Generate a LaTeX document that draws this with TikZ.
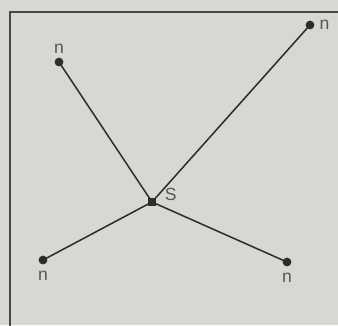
\documentclass[tikz,border=0pt]{standalone}
\usepackage{fontspec}
\setmainfont{Liberation Sans}
\usepackage{xcolor}
\usetikzlibrary{positioning}
\definecolor{starpaper}{HTML}{D9D7D1}
\definecolor{starink}{HTML}{2E2D2B}
\definecolor{starframe}{HTML}{4A4946}
\tikzset{
  site/.style  ={circle, fill=starink, inner sep=0pt, minimum size=7.5pt},
  hub/.style   ={site, rectangle, minimum size=7pt},
  tag/.style   ={font=\fontsize{15}{17}\selectfont, text=starink!80, inner sep=1pt},
  spoke/.style ={draw=starink, line width=1.3pt},
  frame/.style ={draw=starframe, line width=1.8pt},
}

\begin{document}
\begin{tikzpicture}[x=0.03cm,y=-0.03cm]
  \fill[starpaper] (0,0) rectangle (338,325);
  \useasboundingbox (0,0) rectangle (338,325);
  \draw[frame] (10,330) -- (10,12) -- (345,12);

  \node[hub] (s) at (152,202) {};
  \node[tag, above right=-4pt and 6pt of s] (slab) {S};

  \node[site] (nw) at (59,62) {};
  \node[tag, above=2pt of nw] (nwlab) {n};
  \node[site] (ne) at (310,25) {};
  \node[tag, right=3pt of ne] (nelab) {n};
  \node[site] (sw) at (43,260) {};
  \node[tag, below=4pt of sw] (swlab) {n};
  \node[site] (se) at (287,262) {};
  \node[tag, below=4pt of se] (selab) {n};

  \foreach \leaf in {nw,ne,sw,se} {
    \draw[spoke] (s.center) -- (\leaf.center);
  }
\end{tikzpicture}
\end{document}
